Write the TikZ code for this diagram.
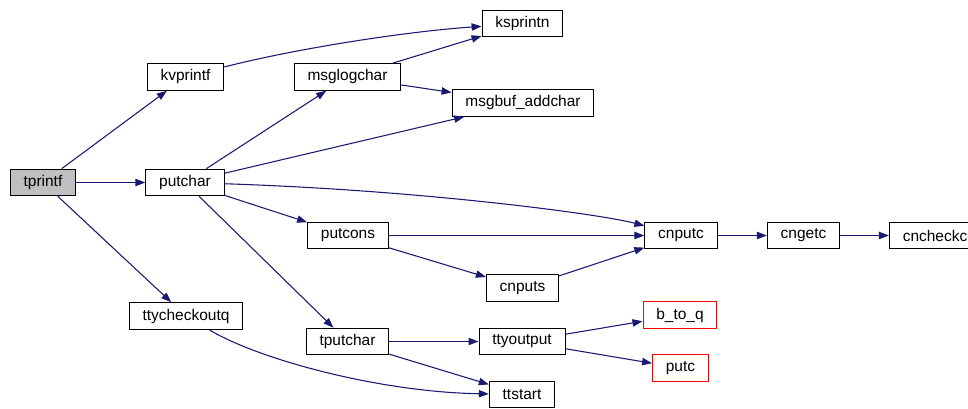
\documentclass[tikz,border=0pt]{standalone}
\usepackage{fontspec}
\setmainfont{Liberation Sans}
\usetikzlibrary{arrows.meta}
\definecolor{edgeblue}{HTML}{191970}
\definecolor{nodegray}{HTML}{BFBFBF}

\begin{document}
\begin{tikzpicture}[x=0.75pt, y=0.75pt,
    fn/.style={draw=black, line width=0.75pt, fill=white, minimum height=20pt,
        inner xsep=10pt, inner ysep=0pt, font=\fontsize{11.6}{13}\selectfont},
    ext/.style={fn, draw=red},
    call/.style={edgeblue, line width=0.8pt, -{Triangle[length=7.5pt,width=5.5pt]}}]
    \useasboundingbox (0,0) rectangle (968,408);

    \node[fn, fill=nodegray] (tprintf) at (43,225.5) {tprintf};
    \node[fn] (kvprintf) at (185.5,331) {kvprintf};
    \node[fn] (putchar) at (185,225.5) {putchar};
    \node[fn] (ttycheckoutq) at (186,92) {ttycheckoutq};
    \node[fn] (msglogchar) at (347.5,331) {msglogchar};
    \node[fn] (ksprintn) at (522.5,384.5) {ksprintn};
    \node[fn] (msgbuf) at (523,305) {msgbuf\_addchar};
    \node[fn] (putcons) at (348,172.5) {putcons};
    \node[fn] (cnputs) at (522.5,120) {cnputs};
    \node[fn] (tputchar) at (347.5,66.5) {tputchar};
    \node[fn] (ttyoutput) at (522,66.5) {ttyoutput};
    \node[fn] (ttstart) at (522,13.5) {ttstart};
    \node[fn] (cnputc) at (681,172.5) {cnputc};
    \node[fn] (cngetc) at (803.5,172.5) {cngetc};
    \node[fn] (cncheckc) at (935,172.5) {cncheckc};
    \node[ext] (btoq) at (680,93) {b\_to\_q};
    \node[ext] (putc) at (680.5,40) {putc};

    \draw[call] (tprintf) -- (kvprintf);
    \draw[call] (tprintf) -- (putchar);
    \draw[call] (tprintf) -- (ttycheckoutq);
    \draw[call] (kvprintf) .. controls (290,358) and (400,376) .. (ksprintn);
    \draw[call] (msglogchar) -- (ksprintn);
    \draw[call] (msglogchar) -- (msgbuf);
    \draw[call] (putchar) -- (msglogchar);
    \draw[call] (putchar) -- (msgbuf);
    \draw[call] (putchar) .. controls (420,218) and (600,194) .. (cnputc);
    \draw[call] (putchar) -- (putcons);
    \draw[call] (putchar) -- (tputchar);
    \draw[call] (putcons) -- (cnputc);
    \draw[call] (putcons) -- (cnputs);
    \draw[call] (cnputs) -- (cnputc);
    \draw[call] (cnputc) -- (cngetc);
    \draw[call] (cngetc) -- (cncheckc);
    \draw[call] (tputchar) -- (ttyoutput);
    \draw[call] (tputchar) -- (ttstart);
    \draw[call] (ttycheckoutq) .. controls (260,48) and (380,16) .. (ttstart);
    \draw[call] (ttyoutput) -- (btoq);
    \draw[call] (ttyoutput) -- (putc);
\end{tikzpicture}
\end{document}
